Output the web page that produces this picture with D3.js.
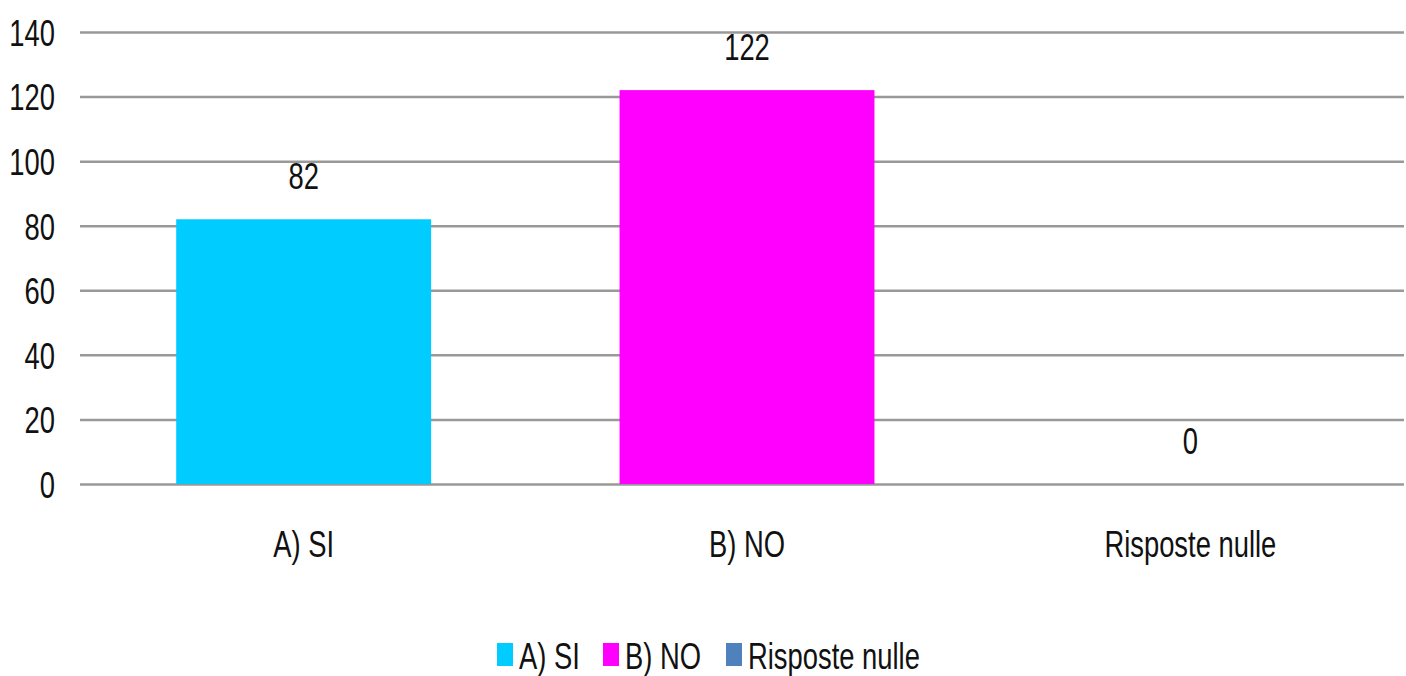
<!DOCTYPE html>
<html>
<head>
<meta charset="utf-8">
<script src="https://cdn.jsdelivr.net/npm/d3@7"></script>
<style>
  body { margin: 0; background: #fff; }
  text { font-family: "Liberation Sans Narrow", "Arial Narrow", "Liberation Sans", sans-serif; fill: #111; }
</style>
</head>
<body>
<div id="wrapper"></div>
<script>
const categories = ["A) SI", "B) NO", "Risposte nulle"];
const values = [82, 122, 0];
const colors = ["#00ccff", "#ff00ff", "#4f81bd"];
const yTicks = [0, 20, 40, 60, 80, 100, 120, 140];

let dimensions = {
  width: 1406,
  height: 676,
  margin: { top: 32, right: 2, bottom: 192, left: 80 },
};
dimensions.boundedWidth = dimensions.width - dimensions.margin.left - dimensions.margin.right;
dimensions.boundedHeight = dimensions.height - dimensions.margin.top - dimensions.margin.bottom;

// text in the picture is tall and narrow
const FONT = 37;
const SX = 0.74;

const wrapper = d3.select("#wrapper").append("svg")
  .attr("width", dimensions.width)
  .attr("height", dimensions.height);

const bounds = wrapper.append("g")
  .attr("transform", `translate(${dimensions.margin.left},${dimensions.margin.top})`);

const xScale = d3.scaleBand()
  .domain(categories)
  .range([2, dimensions.boundedWidth + 8])
  .paddingInner(0.425)
  .paddingOuter(0.2125);

const yScale = d3.scaleLinear()
  .domain([0, 140])
  .range([dimensions.boundedHeight, 0]);

// gridlines + y labels
const yAxis = bounds.append("g")
  .call(d3.axisLeft(yScale).tickValues(yTicks).tickSize(-dimensions.boundedWidth).tickPadding(25));
yAxis.select(".domain").remove();
yAxis.selectAll(".tick line").attr("stroke", "#999").attr("stroke-width", 2.5);
yAxis.selectAll(".tick text")
  .style("font-size", FONT + "px")
  .attr("transform", `scale(${SX},1)`)
  .attr("x", -25 / SX)
  .attr("dy", "0.36em");

// bars
bounds.selectAll(".bar")
  .data(values)
  .join("rect")
  .attr("class", "bar")
  .attr("x", (d, i) => xScale(categories[i]))
  .attr("width", xScale.bandwidth())
  .attr("y", d => yScale(d))
  .attr("height", d => dimensions.boundedHeight - yScale(d))
  .attr("fill", (d, i) => colors[i]);

// value labels
bounds.selectAll(".val")
  .data(values)
  .join("text")
  .attr("class", "val")
  .attr("transform", (d, i) => `translate(${xScale(categories[i]) + xScale.bandwidth() / 2},${yScale(d) - 30}) scale(${SX},1)`)
  .attr("text-anchor", "middle")
  .style("font-size", FONT + "px")
  .text(d => d);

// x labels
const xAxis = bounds.append("g")
  .attr("transform", `translate(0,${dimensions.boundedHeight})`)
  .call(d3.axisBottom(xScale).tickSize(0).tickPadding(0));
xAxis.select(".domain").remove();
xAxis.selectAll(".tick text")
  .style("font-size", FONT + "px")
  .attr("dy", null)
  .attr("y", 73)
  .attr("transform", `scale(${SX},1)`);

// legend
const legendX = [497, 603, 726];
const legend = wrapper.append("g").attr("transform", "translate(0,643)");
const items = legend.selectAll("g")
  .data(categories)
  .join("g")
  .attr("transform", (d, i) => `translate(${legendX[i]},0)`);
items.append("rect")
  .attr("width", 16)
  .attr("height", 23)
  .attr("fill", (d, i) => colors[i]);
items.append("text")
  .attr("transform", `translate(22,26) scale(${SX},1)`)
  .style("font-size", FONT + "px")
  .text(d => d);
</script>
</body>
</html>
